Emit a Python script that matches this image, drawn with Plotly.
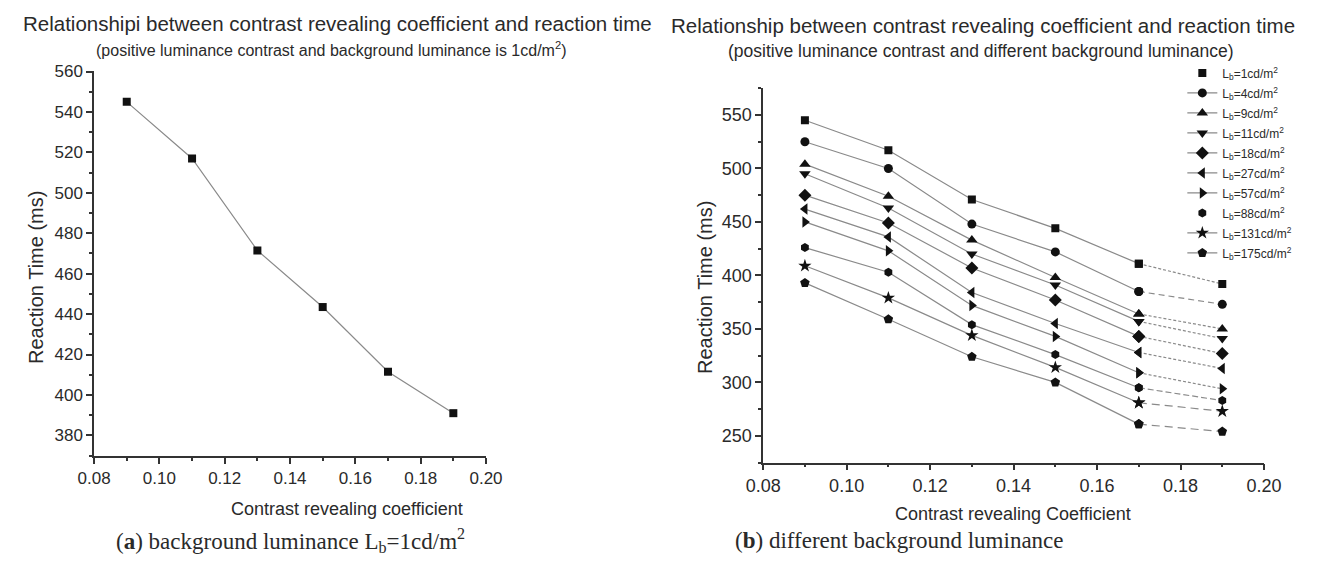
import plotly.graph_objects as go

# ---------------- data ----------------
x_coef = [0.09, 0.11, 0.13, 0.15, 0.17, 0.19]
rt_a = [545, 517, 471.5, 443.5, 411.5, 391]

lum_labels = ["1", "4", "9", "11", "18", "27", "57", "88", "131", "175"]
rt_lb1 = [545, 517, 471, 444, 411, 392]
rt_lb4 = [525, 500, 448, 422, 385, 373]
rt_lb9 = [504, 474, 433, 398, 364, 350]
rt_lb11 = [495, 463, 420, 391, 357, 341]
rt_lb18 = [475, 449, 407, 377, 343, 327]
rt_lb27 = [462, 436, 384, 355, 328, 313]
rt_lb57 = [450, 423, 372, 343, 309, 294]
rt_lb88 = [426, 403, 354, 326, 295, 283]
rt_lb131 = [409, 379, 344, 314, 281, 273]
rt_lb175 = [393, 359, 324, 300, 261, 254]
series_b = [rt_lb1, rt_lb4, rt_lb9, rt_lb11, rt_lb18, rt_lb27, rt_lb57, rt_lb88, rt_lb131, rt_lb175]

x_ticks = [0.08, 0.10, 0.12, 0.14, 0.16, 0.18, 0.20]
y_ticks_a = [380, 400, 420, 440, 460, 480, 500, 520, 540, 560]
y_ticks_b = [250, 300, 350, 400, 450, 500, 550]

# ---------------- styles ----------------
symbols = ["square", "circle", "triangle-up", "triangle-down", "diamond",
           "triangle-left", "triangle-right", "hexagon", "star", "pentagon"]
sizes = [8, 9, 10, 10, 10, 10, 10, 9, 10, 10]
tail_dash = ["3px,2px", "6px,4px", "3px,2px", "3px,2px", "3px,2px",
             "3px,2px", "3px,2px", "6px,3px", "8px,5px", "8px,5px"]
legend_line = [False, True, True, True, True, True, True, False, True, True]
LINE = "#8a8a8a"
MK = "#111111"
TXT = "#2a2a2a"
SANS = "Liberation Sans, Arial"
SERIF = "Liberation Serif, Times New Roman"

# the page body has an 8px margin: figure is 8px smaller and all
# positions below are given in page pixels
OFF = 8
W, H = 1318 - OFF, 577 - OFF

def px(v):
    return (v - OFF) / W

def py(v):
    return 1 - (v - OFF) / H

fig = go.Figure()

# panel a
fig.add_trace(go.Scatter(
    x=x_coef, y=rt_a, mode="lines+markers", xaxis="x", yaxis="y",
    line=dict(color=LINE, width=1.2),
    marker=dict(symbol="square", size=8, color=MK),
    showlegend=False, hoverinfo="x+y"))

# panel b
for i, (lab, ys) in enumerate(zip(lum_labels, series_b)):
    name = "L<sub>b</sub>=" + lab + "cd/m<sup>2</sup>"
    grp = "g" + str(i)
    if not legend_line[i]:
        fig.add_trace(go.Scatter(
            x=x_coef[:5], y=ys[:5], mode="lines", xaxis="x2", yaxis="y2",
            line=dict(color=LINE, width=1.2), showlegend=False,
            legendgroup=grp, hoverinfo="skip"))
    fig.add_trace(go.Scatter(
        x=x_coef[:5], y=ys[:5],
        mode="lines+markers" if legend_line[i] else "markers",
        xaxis="x2", yaxis="y2", name=name, legendgroup=grp,
        line=dict(color=LINE, width=1.2),
        marker=dict(symbol=symbols[i], size=sizes[i], color=MK)))
    fig.add_trace(go.Scatter(
        x=x_coef[4:], y=ys[4:], mode="lines+markers",
        xaxis="x2", yaxis="y2", showlegend=False, legendgroup=grp,
        line=dict(color=LINE, width=1.2, dash=tail_dash[i]),
        marker=dict(symbol=symbols[i], size=sizes[i], color=MK)))

axis_common = dict(
    showgrid=False, zeroline=False, showline=True, linecolor="#333333",
    linewidth=1.5, ticks="outside", tickcolor="#333333", tickwidth=1.5,
    ticklen=6, fixedrange=True)

def minor(dt, t0):
    return dict(dtick=dt, tick0=t0, ticklen=3, ticks="outside", tickcolor="#333333")

fig.update_layout(
    width=W, height=H, margin=dict(l=0, r=0, t=0, b=0),
    paper_bgcolor="white", plot_bgcolor="white",
    font=dict(family=SANS, color=TXT),
    xaxis=dict(axis_common, domain=[px(78), px(481)], range=[0.08, 0.20],
               tickvals=x_ticks, tickformat=".2f", anchor="y",
               tickfont=dict(size=17, family=SANS, color=TXT),
               minor=minor(0.01, 0.08)),
    yaxis=dict(axis_common, domain=[py(454.3), py(63.3)], range=[369.8, 560.5],
               tickvals=y_ticks_a, anchor="x",
               tickfont=dict(size=17, family=SANS, color=TXT),
               minor=minor(10, 370)),
    xaxis2=dict(axis_common, domain=[px(766), px(1281)], range=[0.08, 0.20],
                tickvals=x_ticks, tickformat=".2f", anchor="y2",
                tickfont=dict(size=18, family=SANS, color=TXT),
                minor=minor(0.01, 0.08)),
    yaxis2=dict(axis_common, domain=[py(461), py(80.7)], range=[225, 575.5],
                tickvals=y_ticks_b, anchor="x2",
                tickfont=dict(size=18, family=SANS, color=TXT),
                minor=minor(25, 225)),
    legend=dict(x=px(1197), y=py(51), xanchor="left", yanchor="top",
                bgcolor="rgba(0,0,0,0)", borderwidth=0,
                font=dict(size=12, family=SANS, color=TXT),
                tracegroupgap=1, itemwidth=30, traceorder="grouped"),
)

ann = []
def add_text(text, x, y, size, angle=0, family=SANS):
    ann.append(dict(text=text, x=px(x), y=py(y), xref="paper", yref="paper",
                    xanchor="center", yanchor="middle", showarrow=False,
                    textangle=angle, font=dict(size=size, family=family, color=TXT)))

add_text("Relationshipi between contrast revealing coefficient and reaction time", 328, 16, 20.5)
add_text("(positive luminance contrast and background luminance is 1cd/m<sup>2</sup>)", 322, 41, 16)
add_text("Relationship between contrast revealing coefficient and reaction time", 992, 18, 20.5)
add_text("(positive luminance contrast and different background luminance)", 990, 44, 17.5)
add_text("Reaction Time (ms)", 19, 273, 20, angle=-90)
add_text("Reaction Time (ms)", 706, 283, 20, angle=-90)
add_text("Contrast revealing coefficient", 338, 508, 18)
add_text("Contrast revealing Coefficient", 1023, 513, 18)
add_text("(<b>a</b>) background luminance L<sub>b</sub>=1cd/m<sup>2</sup>", 280, 540, 23,
         family=SERIF)
add_text("(<b>b</b>) different background luminance", 906, 540, 23, family=SERIF)
fig.update_layout(annotations=ann)

fig.write_html("out.html")
